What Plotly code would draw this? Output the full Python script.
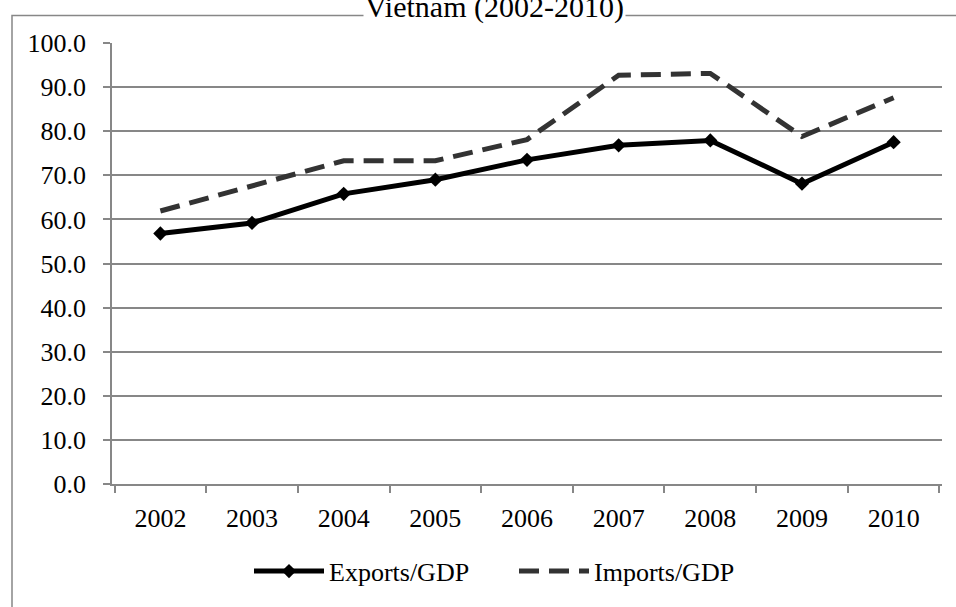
import plotly.graph_objects as go

years = ["2002", "2003", "2004", "2005", "2006", "2007", "2008", "2009", "2010"]
exports_gdp = [56.8, 59.2, 65.8, 69.0, 73.5, 76.8, 77.9, 68.1, 77.5]
imports_gdp = [61.9, 67.7, 73.3, 73.3, 78.1, 92.7, 93.1, 78.8, 87.6]
y_ticks = [0, 10, 20, 30, 40, 50, 60, 70, 80, 90, 100]

FONT = "Liberation Serif, Times New Roman, serif"
GRID = "#878787"

W, H = 956, 607
L, R, T, B = 112, 14, 43, 114
pw, ph = W - L - R, H - T - B

def px_x(x):
    return (x - L) / pw

def px_y(y):
    return (H - B - y) / ph

fig = go.Figure()
fig.add_trace(go.Scatter(
    x=years, y=exports_gdp, name="Exports/GDP", mode="lines+markers",
    line=dict(color="#000000", width=5),
    marker=dict(symbol="diamond", size=11, color="#000000"),
))
fig.add_trace(go.Scatter(
    x=years, y=imports_gdp, name="Imports/GDP", mode="lines",
    line=dict(color="#333333", width=5, dash="20px,10px"),
))

fig.update_layout(
    width=W, height=H,
    margin=dict(l=L, r=R, t=T, b=B),
    paper_bgcolor="white", plot_bgcolor="white",
    font=dict(family=FONT, size=26, color="#000000"),
    showlegend=True,
    legend=dict(orientation="h", x=px_x(514), y=px_y(582), xanchor="center", yanchor="middle",
                font=dict(family=FONT, size=26), itemwidth=70, tracegroupgap=0,
                entrywidth=180, entrywidthmode="pixels"),
    xaxis=dict(
        type="category", showgrid=False, showline=True, linecolor=GRID, linewidth=1.5,
        ticks="outside", tickson="boundaries", ticklen=7, tickcolor=GRID, tickwidth=1.5,
        tickfont=dict(family=FONT, size=26), ticklabelstandoff=10,
    ),
    yaxis=dict(
        range=[0, 100], tickvals=y_ticks, tickformat=".1f",
        showgrid=True, gridcolor=GRID, gridwidth=1.5,
        showline=True, linecolor=GRID, linewidth=1.5,
        ticks="outside", ticklen=7, tickcolor=GRID, tickwidth=1.5,
        tickfont=dict(family=FONT, size=26), ticklabelstandoff=12,
        zeroline=False,
    ),
    shapes=[dict(
        type="rect", xref="paper", yref="paper",
        x0=px_x(12), x1=px_x(1000), y0=px_y(700), y1=px_y(15),
        line=dict(color=GRID, width=1.5), fillcolor="rgba(0,0,0,0)", layer="below",
    )],
    annotations=[dict(
        text="Vietnam (2002-2010)", xref="paper", yref="paper",
        x=px_x(494), y=px_y(6), xanchor="center", yanchor="middle",
        showarrow=False, font=dict(family=FONT, size=30, color="#000000"),
        bgcolor="white",
    )],
)

fig.write_html("out.html")
